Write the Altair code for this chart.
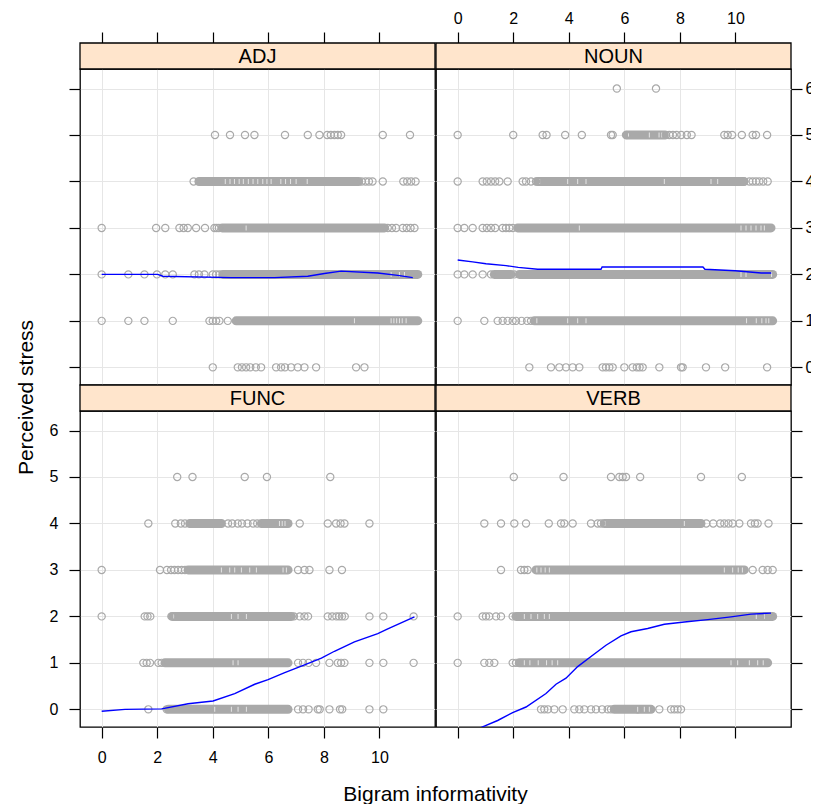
import altair as alt
import pandas as pd

FONT = "Liberation Sans"
GREY = "#A9A9A9"
STRIP_FILL = "#FFE5CC"
BLUE = "#0000FF"

W, H, STRIP = 355, 316, 26
X_DOMAIN = [-0.78, 12.0]
Y_DOMAIN = [-0.38, 6.42]
X_TICKS = [0, 2, 4, 6, 8, 10]
Y_TICKS = [0, 1, 2, 3, 4, 5, 6]

# ---------------- ADJ ----------------
ADJ_POINTS = {
    5: [4.08, 4.62, 5.16, 5.50, 6.60, 7.42, 7.84, 8.12, 8.25, 8.38, 8.5, 8.62, 10.12, 11.10],
    4: [3.31, 9.36, 9.5, 9.62, 9.75, 10.12, 10.86, 11.0, 11.14, 11.3],
    3: [0, 1.96, 2.29, 2.8, 2.95, 3.1, 3.40, 3.72, 4.06, 4.14, 4.22, 10.3, 10.45, 10.6, 10.84, 10.98, 11.12, 11.26],
    2: [0, 0.96, 1.54, 1.99, 2.29, 2.56, 3.34, 3.5, 3.7, 4.0, 4.12, 4.24],
    1: [0, 0.96, 1.54, 2.56, 3.88, 4.0, 4.12, 4.24, 4.54],
    0: [4.0, 4.9, 5.05, 5.2, 5.35, 5.55, 5.74, 6.28, 6.46, 6.6, 6.82, 7.06, 7.3, 7.72, 9.16, 9.46],
}
ADJ_BANDS = {4: [(3.5, 9.25)], 3: [(4.34, 10.18)], 2: [(4.36, 11.38)], 1: [(4.84, 11.38)]}
ADJ_GAPS = {
    4: [4.45, 4.62, 4.78, 4.95, 5.1, 5.28, 5.45, 5.62, 5.8, 5.95, 6.1, 6.45, 6.62, 6.8, 7.0, 7.4],
    3: [5.2],
    2: [10.42, 10.72, 10.9],
    1: [9.1, 10.42, 10.52, 10.62, 10.72, 10.82, 10.96],
}
ADJ_SMOOTH_X = [0, 2.02, 2.2, 4.66, 6.22, 7.42, 8.02, 8.62, 9.94, 10.66, 11.2]
ADJ_SMOOTH_Y = [2.0, 2.0, 1.96, 1.93, 1.93, 1.96, 2.02, 2.07, 2.03, 1.98, 1.93]

# ---------------- NOUN ----------------
NOUN_POINTS = {
    6: [5.73, 7.14],
    5: [0, 2.0, 3.06, 3.2, 3.87, 4.47, 5.52, 5.58, 6.06, 7.5, 7.62, 7.75, 7.88, 8.05, 8.25, 8.42,
        9.6, 9.72, 9.88, 10.23, 10.62, 10.74, 11.14],
    4: [0, 0.9, 1.05, 1.2, 1.35, 1.5, 1.8, 2.34, 2.46, 2.64, 2.82, 10.32, 10.5, 10.62, 10.74, 10.86, 11.0, 11.16],
    3: [0, 0.24, 0.54, 0.9, 1.05, 1.2, 1.35, 1.62, 1.74, 1.86, 1.98],
    2: [0, 0.24, 0.54, 0.9, 1.2, 2.04],
    1: [0, 0.96, 1.44, 1.62, 1.8, 1.98, 2.1, 2.3, 2.5, 2.64],
    0: [2.58, 3.36, 3.66, 3.9, 4.14, 4.38, 5.22, 5.34, 5.46, 5.58, 6.0, 6.3, 6.45, 6.55, 6.66,
        7.26, 8.04, 8.1, 8.94, 9.63, 11.14],
}
NOUN_BANDS = {5: [(6.1, 7.44)], 4: [(2.88, 10.3)], 3: [(2.16, 11.28)],
              2: [(1.32, 1.92), (2.22, 11.34)], 1: [(2.76, 11.34)]}
NOUN_GAPS = {
    5: [6.15, 6.9, 7.25, 7.35],
    4: [2.95, 3.96, 4.32, 4.62, 7.44, 9.12, 9.36],
    3: [4.38, 10.2, 10.38, 10.56, 10.74, 10.92, 11.04],
    2: [10.2, 10.38, 11.3],
    1: [2.85, 3.96, 4.32, 4.62, 10.4, 10.75, 10.95, 11.1, 11.2],
}
NOUN_SMOOTH_X = [0, 0.54, 1.02, 1.74, 2.18, 2.88, 5.16, 5.2, 8.83, 8.9, 9.99, 10.93, 11.29]
NOUN_SMOOTH_Y = [2.31, 2.27, 2.23, 2.19, 2.15, 2.11, 2.11, 2.16, 2.16, 2.11, 2.08, 2.03, 2.03]

# ---------------- FUNC ----------------
FUNC_POINTS = {
    5: [2.72, 3.27, 5.15, 5.95, 8.23],
    4: [1.68, 2.65, 2.85, 3.0, 4.55, 4.7, 4.9, 5.05, 5.25, 5.45, 5.6, 7.13, 8.14, 8.44, 8.6, 8.74, 9.64],
    3: [0, 2.1, 2.35, 2.5, 2.62, 2.75, 2.88, 3.0, 7.07, 7.3, 7.48, 8.2, 8.65],
    2: [0, 1.55, 1.65, 1.75, 2.51, 6.92, 7.13, 7.3, 7.43, 8.14, 8.3, 8.45, 8.55, 8.65, 8.75, 9.64, 10.14, 11.23],
    1: [1.5, 1.62, 1.74, 2.04, 2.16, 7.07, 7.25, 7.45, 7.72, 8.2, 8.5, 8.62, 8.74, 9.64, 10.14, 11.23],
    0: [1.68, 2.34, 7.07, 7.25, 7.45, 7.78, 7.85, 8.2, 8.58, 8.66, 9.64, 10.14],
}
FUNC_BANDS = {4: [(3.17, 4.31), (5.75, 6.71)], 3: [(3.11, 6.71)], 2: [(2.55, 6.83)],
              1: [(2.28, 6.71)], 0: [(2.4, 6.71)]}
FUNC_GAPS = {
    4: [6.4, 6.5, 6.6],
    3: [4.31, 4.61, 4.79, 5.03, 5.33, 5.57, 6.53, 6.65],
    2: [2.6, 4.67, 4.91, 5.21],
    1: [4.73, 4.91],
    0: [4.07, 4.67, 4.91, 5.21],
}
FUNC_SMOOTH_X = [0, 0.84, 2.16, 3.11, 4.01, 4.79, 5.51, 5.99, 6.59, 7.19, 7.91, 8.38, 9.10, 9.94, 10.30, 11.26]
FUNC_SMOOTH_Y = [-0.04, 0.0, 0.01, 0.12, 0.18, 0.34, 0.54, 0.64, 0.79, 0.93, 1.10, 1.25, 1.45, 1.63, 1.73, 1.99]

# ---------------- VERB ----------------
VERB_POINTS = {
    5: [2.02, 3.81, 5.52, 5.82, 5.94, 6.06, 6.57, 8.76, 10.23],
    4: [0.96, 1.56, 2.04, 2.46, 3.28, 3.72, 3.84, 4.14, 4.8, 5.04, 5.16, 8.95, 9.2, 9.45, 9.6, 9.75,
        9.9, 10.14, 10.56, 10.7, 10.8, 11.19],
    3: [1.56, 2.28, 2.4, 2.52, 10.62, 10.98, 11.16, 11.34],
    2: [0, 0.9, 1.02, 1.14, 1.38, 1.56, 1.98, 10.98, 11.2],
    1: [0, 0.96, 1.14, 1.32, 1.98, 2.1],
    0: [3.0, 3.12, 3.25, 3.48, 3.78, 4.2, 4.38, 4.56, 4.8, 4.98, 5.2, 5.4, 5.52, 6.48, 7.26, 7.68,
        7.8, 7.92, 8.04],
}
VERB_BANDS = {4: [(5.28, 8.76)], 3: [(2.82, 10.32)], 2: [(2.1, 11.34)], 1: [(2.22, 11.16)], 0: [(5.64, 6.96)]}
VERB_GAPS = {
    4: [5.3, 8.16],
    3: [2.85, 3.0, 3.15, 3.3, 9.6, 9.9, 10.1, 10.25],
    2: [2.4, 2.64, 2.88, 3.12, 3.3, 10.75, 11.05],
    1: [2.4, 2.6, 2.9, 3.2, 3.4, 3.6, 9.84, 10.08, 10.5, 10.8, 11.0],
    0: [6.48, 6.72, 6.9],
}
VERB_SMOOTH_X = [0, 0.96, 1.44, 1.98, 2.46, 3.18, 3.54, 3.90, 4.32, 4.92, 5.34, 5.88, 6.24, 6.84,
                 7.44, 8.16, 9.0, 9.84, 10.56, 11.28]
VERB_SMOOTH_Y = [-0.62, -0.36, -0.24, -0.07, 0.05, 0.34, 0.54, 0.67, 0.92, 1.19, 1.38, 1.58, 1.67,
                 1.74, 1.83, 1.88, 1.93, 1.99, 2.05, 2.07]


def make_axis(orient, labels, title=None, **kw):
    pad = {"left": 11, "right": 3, "bottom": 11, "top": 6}[orient]
    is_x = orient in ("top", "bottom")
    return alt.Axis(
        orient=orient,
        values=X_TICKS if is_x else Y_TICKS,
        labels=labels,
        labelPadding=pad,
        offset=STRIP if orient == "top" else 0,
        title=title,
        **kw,
    )


def panel(name, points, bands, gaps, sx, sy, xaxis, yaxis):
    pts = pd.DataFrame([{"x": x, "y": lvl} for lvl, xs in points.items() for x in xs])
    bnd = pd.DataFrame([{"x": a, "xe": b, "y": lvl} for lvl, bl in bands.items() for a, b in bl])
    gap = pd.DataFrame([{"x": x, "y": lvl} for lvl, xs in gaps.items() for x in xs])
    smooth = pd.DataFrame({"x": sx, "y": sy})
    xs = alt.Scale(domain=X_DOMAIN, nice=False, zero=False)
    ys = alt.Scale(domain=Y_DOMAIN, nice=False, zero=False)

    def X():
        return alt.X("x:Q", scale=xs, axis=xaxis)

    def Y():
        return alt.Y("y:Q", scale=ys, axis=yaxis)

    band_layer = alt.Chart(bnd).mark_rule(
        color=GREY, strokeWidth=9, strokeCap="round"
    ).encode(x=X(), x2="xe:Q", y=Y())
    gap_layer = alt.Chart(gap).mark_tick(
        orient="vertical", color="white", size=5, thickness=1
    ).encode(x=X(), y=Y())
    pt_layer = alt.Chart(pts).mark_point(
        shape="circle", filled=False, size=52, strokeWidth=1.2, color=GREY, opacity=1
    ).encode(x=X(), y=Y())
    line_layer = alt.Chart(smooth).mark_line(
        color=BLUE, strokeWidth=1.4, clip=True
    ).encode(x=X(), y=Y())
    lab = pd.DataFrame({"label": [name]})
    strip = alt.Chart(lab).mark_rect(
        fill=STRIP_FILL, stroke="black", strokeWidth=1.3
    ).encode(x=alt.value(0), x2=alt.value(W), y=alt.value(-STRIP), y2=alt.value(0))
    strip_text = alt.Chart(lab).mark_text(
        font=FONT, fontSize=20, color="black", baseline="middle", align="center"
    ).encode(x=alt.value(W / 2), y=alt.value(-STRIP / 2 + 1), text="label:N")
    return alt.layer(band_layer, gap_layer, pt_layer, line_layer, strip, strip_text).properties(
        width=W, height=H
    )


adj = panel("ADJ", ADJ_POINTS, ADJ_BANDS, ADJ_GAPS, ADJ_SMOOTH_X, ADJ_SMOOTH_Y,
            make_axis("top", False), make_axis("left", False))
noun = panel("NOUN", NOUN_POINTS, NOUN_BANDS, NOUN_GAPS, NOUN_SMOOTH_X, NOUN_SMOOTH_Y,
             make_axis("top", True), make_axis("right", True))
func = panel("FUNC", FUNC_POINTS, FUNC_BANDS, FUNC_GAPS, FUNC_SMOOTH_X, FUNC_SMOOTH_Y,
             make_axis("bottom", True, "Bigram informativity", titleX=355, titleY=73,
                       titleBaseline="alphabetic", titleAlign="center"),
             make_axis("left", True, "Perceived stress", titleX=-48, titleY=-14, titleAngle=270,
                       titleBaseline="alphabetic", titleAlign="center"))
verb = panel("VERB", VERB_POINTS, VERB_BANDS, VERB_GAPS, VERB_SMOOTH_X, VERB_SMOOTH_Y,
             make_axis("bottom", False), make_axis("right", False))

chart = alt.ConcatChart(
    concat=[adj, noun, func, verb],
    columns=2,
    spacing=alt.RowColnumber(row=STRIP, column=1),
    bounds="flush",
).properties(
    padding={"left": 6, "top": 1, "right": -4, "bottom": 0},
    background="white",
).configure_view(
    stroke="black", strokeWidth=1.3
).configure_axis(
    labelFont=FONT, labelFontSize=16, labelColor="black",
    titleFont=FONT, titleFontSize=21, titleFontWeight="normal", titleColor="black",
    tickColor="black", tickSize=11, tickWidth=1.2,
    domain=False, grid=True, gridColor="#E6E6E6", gridWidth=1,
)

chart.save("out.html", embed_options={"renderer": "svg", "actions": False})
